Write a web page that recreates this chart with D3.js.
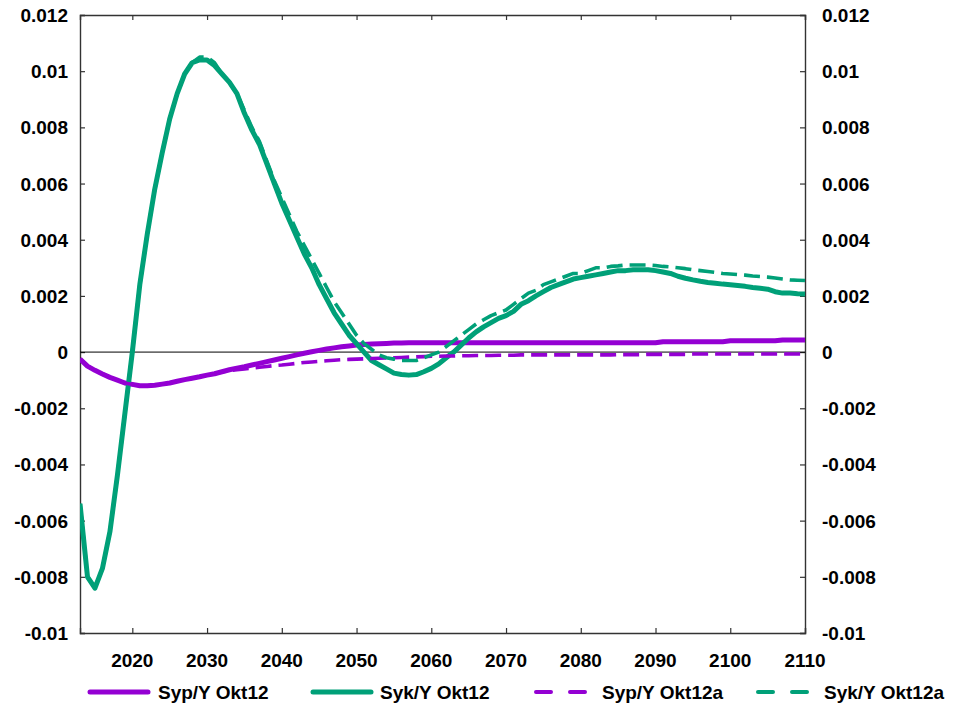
<!DOCTYPE html>
<html>
<head>
<meta charset="utf-8">
<script src="https://cdn.jsdelivr.net/npm/d3@7"></script>
<style>
  html, body { margin: 0; padding: 0; background: #fff; }
  svg text { font-family: "Liberation Sans", Arial, sans-serif; font-weight: bold; fill: #000; }
</style>
</head>
<body>
<svg id="chart" width="953" height="706"></svg>
<script>
// Years 2013–2110
const years = d3.range(2013, 2111);

// Syp/Y Okt12 (solid purple)
const sypOkt12 = [
  -0.00025, -0.0005, -0.00065, -0.00078, -0.0009, -0.001, -0.0011, -0.00115, -0.0012, -0.0012,
  -0.00118, -0.00114, -0.0011, -0.00104, -0.00098, -0.00093, -0.00088, -0.00082, -0.00077, -0.0007,
  -0.00063, -0.00057, -0.00052, -0.00046, -0.0004, -0.00034, -0.00028, -0.00022, -0.00016, -0.0001,
  -0.00004, 0.00001, 0.00006, 0.00011, 0.00015, 0.00019, 0.00022, 0.00025, 0.00027, 0.00029,
  0.0003, 0.00031, 0.00032, 0.00032, 0.00033, 0.00033, 0.00033, 0.00033, 0.00033, 0.00033,
  0.00033, 0.00033, 0.00033, 0.00033, 0.00033, 0.00033, 0.00033, 0.00033, 0.00033, 0.00033,
  0.00033, 0.00033, 0.00033, 0.00033, 0.00033, 0.00033, 0.00033, 0.00033, 0.00033, 0.00033,
  0.00033, 0.00033, 0.00033, 0.00033, 0.00033, 0.00033, 0.00033, 0.00033, 0.00037, 0.00037,
  0.00037, 0.00037, 0.00037, 0.00037, 0.00037, 0.00037, 0.00037, 0.0004, 0.0004, 0.0004,
  0.0004, 0.0004, 0.0004, 0.0004, 0.00043, 0.00043, 0.00043, 0.00043
];

// Syk/Y Okt12 (solid green)
const sykOkt12 = [
  -0.0054, -0.008, -0.0084, -0.0077, -0.0064, -0.0044, -0.0022, 0.0, 0.0024, 0.0042,
  0.0058, 0.0071, 0.0083, 0.0092, 0.0099, 0.0103, 0.0104, 0.0104, 0.0102, 0.0099,
  0.0096, 0.0092, 0.0085, 0.0079, 0.0074, 0.0067, 0.006, 0.0053, 0.0047, 0.0041,
  0.0035, 0.003, 0.0024, 0.0019, 0.0014, 0.001, 0.0006, 0.0003, 0.0, -0.0003,
  -0.00045, -0.0006, -0.00075, -0.0008, -0.00082, -0.0008, -0.0007, -0.00058, -0.00042, -0.0002,
  0.0, 0.00025, 0.0005, 0.00072, 0.0009, 0.00105, 0.0012, 0.0013, 0.00145, 0.0017,
  0.00183, 0.002, 0.00215, 0.0023, 0.0024, 0.0025, 0.0026, 0.00265, 0.0027, 0.00275,
  0.0028, 0.00285, 0.0029, 0.0029, 0.00293, 0.00293, 0.00293, 0.0029, 0.00285, 0.0028,
  0.0027, 0.00263, 0.00257, 0.00252, 0.00248, 0.00245, 0.00242, 0.0024, 0.00237, 0.00234,
  0.0023, 0.00227, 0.00224, 0.00215, 0.0021, 0.0021, 0.00208, 0.00207
];

// Syp/Y Okt12a (dashed purple)
const sypOkt12a = [
  -0.00025, -0.0005, -0.00065, -0.00078, -0.0009, -0.001, -0.0011, -0.00115, -0.0012, -0.0012,
  -0.00118, -0.00114, -0.0011, -0.00104, -0.00098, -0.00093, -0.00088, -0.00082, -0.00077, -0.0007,
  -0.00066, -0.00063, -0.0006, -0.00057, -0.00054, -0.00051, -0.00048, -0.00046, -0.00043, -0.0004,
  -0.00037, -0.00035, -0.00033, -0.00031, -0.00029, -0.00027, -0.00026, -0.00025, -0.00024, -0.00023,
  -0.00022, -0.00021, -0.0002, -0.00019, -0.00018, -0.00017, -0.00016, -0.00015, -0.00015, -0.00014,
  -0.00014, -0.00013, -0.00013, -0.00012, -0.00012, -0.00012, -0.00011, -0.00011, -0.00011, -0.0001,
  -0.0001, -0.0001, -0.0001, -0.0001, -0.0001, -0.0001, -0.0001, -0.0001, -0.0001, -0.0001,
  -0.0001, -0.0001, -0.00009, -0.00009, -0.00009, -0.00009, -0.00008, -0.00008, -0.00008, -0.00008,
  -0.00008, -0.00008, -0.00007, -0.00007, -0.00007, -0.00007, -0.00007, -0.00007, -0.00007, -0.00007,
  -0.00007, -0.00007, -0.00007, -0.00007, -0.00007, -0.00007, -0.00007, -0.00007
];

// Syk/Y Okt12a (dashed green)
const sykOkt12a = [
  -0.0054, -0.008, -0.0084, -0.0077, -0.0064, -0.0044, -0.0022, 0.0, 0.0024, 0.0042,
  0.0058, 0.0071, 0.0083, 0.0092, 0.0099, 0.0103, 0.0105, 0.0105, 0.0103, 0.0099,
  0.0096, 0.0092, 0.0086, 0.008, 0.0075, 0.0068, 0.0061, 0.0055, 0.0049, 0.0043,
  0.0038, 0.0033, 0.0028, 0.0023, 0.0018, 0.0014, 0.001, 0.0006, 0.0003, 0.0001,
  -0.0001, -0.0002, -0.00025, -0.0003, -0.0003, -0.0003, -0.0002, -0.0001, 0.0, 0.0002,
  0.0004, 0.0006, 0.0008, 0.001, 0.00115, 0.0013, 0.0014, 0.0015, 0.0017, 0.0019,
  0.0021, 0.0022, 0.0024, 0.0025, 0.0026, 0.0027, 0.0028, 0.0028, 0.0029, 0.003,
  0.003, 0.00305, 0.00307, 0.0031, 0.0031, 0.0031, 0.0031, 0.00308, 0.00305, 0.00303,
  0.003, 0.00297, 0.00293, 0.0029, 0.00287, 0.00284, 0.0028, 0.00278, 0.00276, 0.00274,
  0.00271, 0.00269, 0.00267, 0.00264, 0.0026, 0.00257, 0.00256, 0.00255
];

const yTicks = [-0.01, -0.008, -0.006, -0.004, -0.002, 0, 0.002, 0.004, 0.006, 0.008, 0.01, 0.012];
const xTicks = [2020, 2030, 2040, 2050, 2060, 2070, 2080, 2090, 2100, 2110];

const purple = "#9400D3";
const green = "#00A078";

const seriesList = [
  { name: "Syp/Y Okt12",  values: sypOkt12,  color: purple, dashed: false },
  { name: "Syk/Y Okt12",  values: sykOkt12,  color: green,  dashed: false },
  { name: "Syp/Y Okt12a", values: sypOkt12a, color: purple, dashed: true },
  { name: "Syk/Y Okt12a", values: sykOkt12a, color: green,  dashed: true }
];

const svg = d3.select("#chart");
const plot = { left: 80, right: 805, top: 15, bottom: 633 };

const x = d3.scaleLinear().domain([2013, 2110]).range([plot.left, plot.right]);
const y = d3.scaleLinear().domain([-0.01, 0.012]).range([plot.bottom, plot.top]);

const fmt = v => v === 0 ? "0" : String(+v.toFixed(3));
const axisColor = "#333";

// Axes with inward ticks on all four sides
const leftAxis = svg.append("g").attr("transform", `translate(${plot.left},0)`)
  .call(d3.axisRight(y).tickValues(yTicks).tickSize(5).tickFormat(""));
const rightAxis = svg.append("g").attr("transform", `translate(${plot.right},0)`)
  .call(d3.axisLeft(y).tickValues(yTicks).tickSize(5).tickFormat(""));
const bottomAxis = svg.append("g").attr("transform", `translate(0,${plot.bottom})`)
  .call(d3.axisTop(x).tickValues(xTicks).tickSize(5).tickFormat(""));
const topAxis = svg.append("g").attr("transform", `translate(0,${plot.top})`)
  .call(d3.axisBottom(x).tickValues(xTicks).tickSize(5).tickFormat(""));
[leftAxis, rightAxis, bottomAxis, topAxis].forEach(g => {
  g.selectAll("path.domain").attr("stroke", axisColor).attr("stroke-width", 1.4);
  g.selectAll(".tick line").attr("stroke", axisColor).attr("stroke-width", 1.2);
});

// Tick labels
const labelSize = 19;
svg.append("g").selectAll("text").data(yTicks).join("text")
  .attr("x", 68).attr("y", d => y(d) + 7)
  .attr("text-anchor", "end").attr("font-size", labelSize)
  .text(fmt);
svg.append("g").selectAll("text").data(yTicks).join("text")
  .attr("x", 822).attr("y", d => y(d) + 7)
  .attr("text-anchor", "start").attr("font-size", labelSize)
  .text(fmt);
svg.append("g").selectAll("text").data(xTicks).join("text")
  .attr("x", d => x(d)).attr("y", 667)
  .attr("text-anchor", "middle").attr("font-size", labelSize)
  .text(d => d);

// Zero reference line
svg.append("line")
  .attr("x1", plot.left).attr("x2", plot.right)
  .attr("y1", y(0)).attr("y2", y(0))
  .attr("stroke", "#000").attr("stroke-width", 1);

// Series lines
svg.append("clipPath").attr("id", "plotClip")
  .append("rect").attr("x", plot.left).attr("y", plot.top - 5)
  .attr("width", plot.right - plot.left + 4).attr("height", plot.bottom - plot.top + 10);

const line = d3.line().x((d, i) => x(years[i])).y(d => y(d));
svg.append("g").attr("clip-path", "url(#plotClip)")
  .selectAll("path").data(seriesList).join("path")
  .attr("d", d => line(d.values))
  .attr("fill", "none")
  .attr("stroke", d => d.color)
  .attr("stroke-width", d => d.dashed ? 3.6 : 5)
  .attr("stroke-dasharray", d => d.dashed ? "16,7" : null)
  .attr("stroke-linejoin", "round");

// Legend
const legendItems = [
  { x0: 90,  x1: 148, tx: 158 },
  { x0: 313, x1: 371, tx: 380 },
  { x0: 536, x1: 590, tx: 602 },
  { x0: 758, x1: 812, tx: 824 }
];
const legend = svg.append("g");
seriesList.forEach((s, i) => {
  const p = legendItems[i];
  legend.append("line")
    .attr("x1", p.x0).attr("x2", p.x1).attr("y1", 692).attr("y2", 692)
    .attr("stroke", s.color)
    .attr("stroke-width", s.dashed ? 4 : 5)
    .attr("stroke-linecap", "round")
    .attr("stroke-dasharray", s.dashed ? "15,19" : null);
  legend.append("text")
    .attr("x", p.tx).attr("y", 699)
    .attr("font-size", labelSize)
    .text(s.name);
});
</script>
</body>
</html>
